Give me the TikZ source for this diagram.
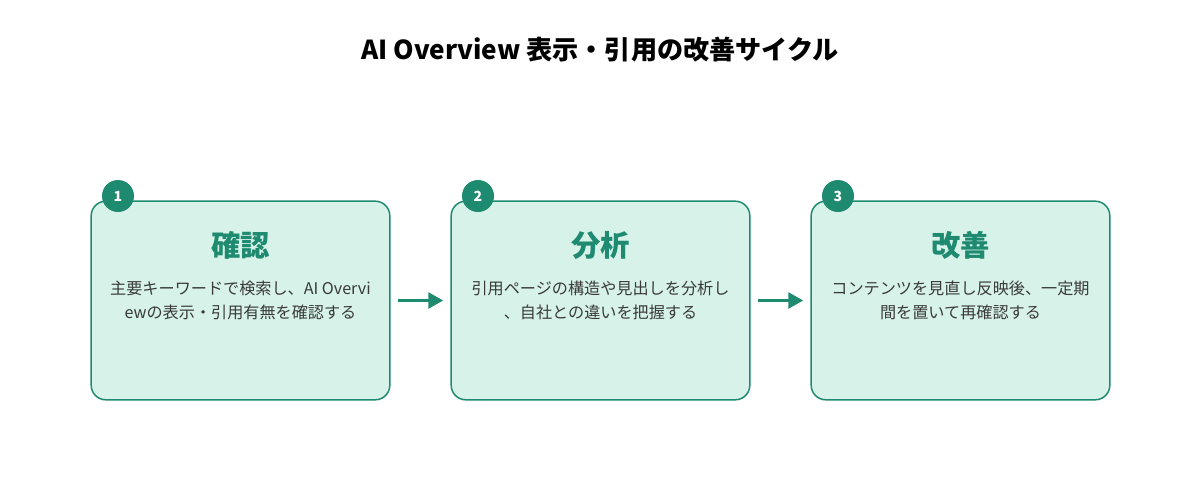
\documentclass[tikz,border=0pt]{standalone}
\usepackage{fontspec}
\setmainfont{Noto Sans CJK JP}
\usepackage{tikz}
\usetikzlibrary{positioning,arrows.meta}
\definecolor{stepgreen}{HTML}{1E8A70}
\definecolor{stepmint}{HTML}{D6F2E9}
\definecolor{stepgray}{HTML}{3A3A3A}
\tikzset{stepbox/.style = {draw=stepgreen,fill=stepmint,line width=1.1pt,rounded corners=11pt,
                           minimum width=224pt,minimum height=149pt,inner sep=0pt},
         badge/.style = {circle,fill=stepgreen,text=white,minimum size=24pt,inner sep=0pt,
                         font=\fontsize{10.5}{12}\bfseries\selectfont},
         stephead/.style = {text=stepgreen,font=\fontsize{22}{26}\bfseries\selectfont},
         steptext/.style = {text=stepgray,align=center,font=\fontsize{12.1}{18}\selectfont},
         flow/.style = {draw=stepgreen,line width=1.6pt,-{Triangle[length=11pt,width=12pt]},
                        shorten <=5.5pt,shorten >=5.5pt}}

\begin{document}
\begin{tikzpicture}[x=0.75pt,y=-0.75pt]
                \useasboundingbox (0,0) rectangle (1200,500);
                \node [font=\fontsize{19.6}{24}\bfseries\selectfont] (title) at (600,50)
                    {AI Overview 表示・引用の改善サイクル};
                \foreach \i/\x/\head/\body in {
                    1/240.5/確認/{主要キーワードで検索し、AI Overvi\\ewの表示・引用有無を確認する},
                    2/600.5/分析/{引用ページの構造や見出しを分析し\\、自社との違いを把握する},
                    3/960.5/改善/{コンテンツを見直し反映後、一定期\\間を置いて再確認する}} {
                    \node [stepbox] (box\i) at (\x,300.5) {};
                    \node [badge] (num\i) at (\x-122.5,196) {\i};
                    \node [stephead] (head\i) at (\x,245) {\head};
                    \node [steptext] (text\i) at (\x,300) {\body};
                }
                \draw [flow] (box1) -- (box2);
                \draw [flow] (box2) -- (box3);
            \end{tikzpicture}
\end{document}
